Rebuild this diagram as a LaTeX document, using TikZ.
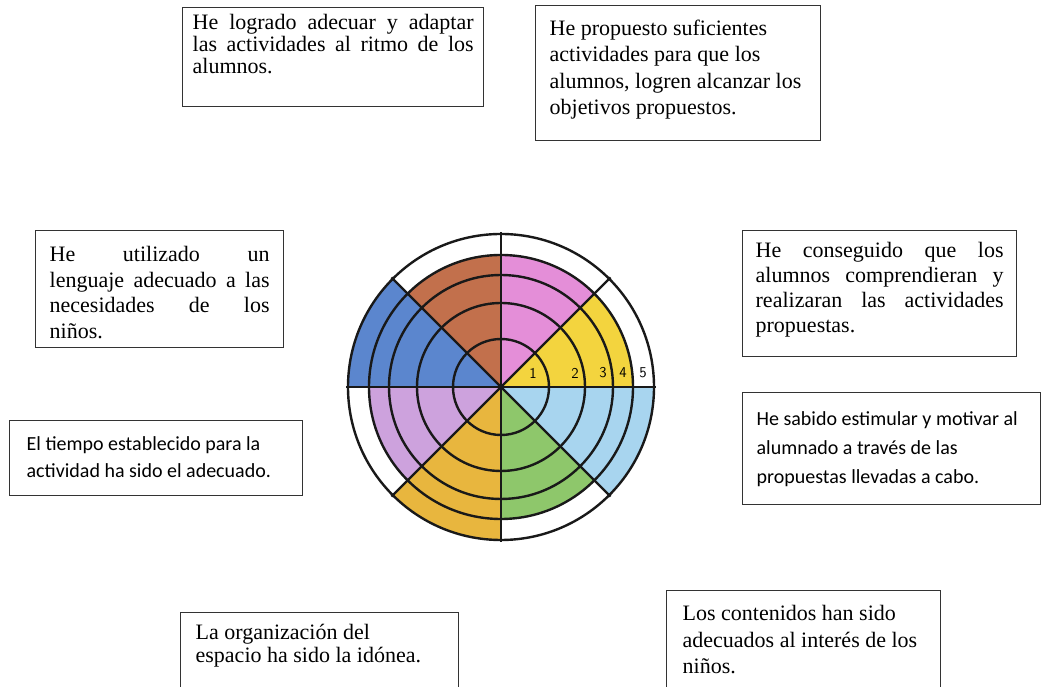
\documentclass[tikz,border=0pt]{standalone}
\usepackage{fontspec}
\setmainfont{Liberation Serif}
\newfontfamily\calibri{Carlito}
\definecolor{amarillo}{HTML}{F3D43E}
\definecolor{rosa}{HTML}{E48ED8}
\definecolor{marron}{HTML}{C2704C}
\definecolor{azul}{HTML}{5B86CE}
\definecolor{lila}{HTML}{CDA2DD}
\definecolor{naranja}{HTML}{E8B63E}
\definecolor{verde}{HTML}{8EC76B}
\definecolor{celeste}{HTML}{A8D5EF}
\hyphenpenalty=10000
\tolerance=9999

\begin{document}
\begin{tikzpicture}[x=1pt,y=1pt,
		rueda/.style={line width=2.4pt,black!90},
		recuadro/.style={draw=black!80,line width=1.3pt,anchor=north west},
		serif/.style={font=\fontsize{22}{25.5}\selectfont},
		sans/.style={font=\calibri\fontsize{20}{29}\selectfont},
		numero/.style={font=\sffamily\fontsize{15}{15}\selectfont,inner sep=0pt}]
	\useasboundingbox (0,0) rectangle (1042,687);
	\clip (0,0) rectangle (1042,687);

	% la diana
	\coordinate (centro) at (501,300);
	\foreach \ang/\col/\rad in {0/amarillo/132,45/rosa/132,90/marron/132,135/azul/153,
			180/lila/132,225/naranja/153,270/verde/132,315/celeste/153}
		\fill[\col] (centro) -- ++(\ang:\rad) arc[start angle=\ang,end angle=\ang+45,radius=\rad] -- cycle;
	\foreach \r in {48,84,112,132,153}
		\draw[rueda] (centro) circle[radius=\r];
	\foreach \ang in {0,45,...,315}
		\draw[rueda] (centro) -- ++(\ang:155);
	\foreach \n/\x in {1/32,2/74,3/102,4/122,5/142}
		\node[numero] (n\n) at ([shift={(\x,14)}]centro) {\n};

	% los recuadros
	\node[recuadro,serif,font=\fontsize{22}{22}\selectfont,inner xsep=10pt,inner ysep=7pt] (logrado) at (182,680)
		{\begin{minipage}[t][85pt][t]{281pt}He logrado adecuar y adaptar\linebreak las actividades al ritmo de los\linebreak alumnos.\end{minipage}};
	\node[recuadro,serif,font=\fontsize{22}{26.5}\selectfont,inner xsep=14pt,inner ysep=14pt] (propuesto) at (535,682)
		{\begin{minipage}[t][107pt][t]{257pt}\raggedright He propuesto suficientes\\ actividades para que los\\ alumnos, logren alcanzar los\\ objetivos propuestos.\end{minipage}};
	\node[recuadro,serif,inner xsep=14pt,inner ysep=16pt] (lenguaje) at (35,457)
		{\begin{minipage}[t][85pt][t]{220pt}He utilizado un\linebreak lenguaje adecuado a las\linebreak necesidades de los\linebreak ni\~nos.\end{minipage}};
	\node[recuadro,serif,font=\fontsize{22}{25}\selectfont,inner xsep=13pt,inner ysep=12pt] (conseguido) at (742,457)
		{\begin{minipage}[t][102pt][t]{248pt}He conseguido que los\linebreak alumnos comprendieran y\linebreak realizaran las actividades\linebreak propuestas.\end{minipage}};
	\node[recuadro,sans,inner xsep=14pt,inner ysep=19pt] (motivar) at (742,295)
		{\begin{minipage}[t][74pt][t]{270pt}\raggedright He sabido estimular y motivar al\\ alumnado a través de las\\ propuestas llevadas a cabo.\end{minipage}};
	\node[recuadro,sans,font=\calibri\fontsize{20}{26.5}\selectfont,inner xsep=17pt,inner ysep=16pt] (tiempo) at (9,267)
		{\begin{minipage}[t][43pt][t]{259pt}\raggedright El tiempo establecido para la\\ actividad ha sido el adecuado.\end{minipage}};
	\node[recuadro,serif,font=\fontsize{22}{23}\selectfont,inner xsep=15pt,inner ysep=12pt] (espacio) at (180,75)
		{\begin{minipage}[t][96pt][t]{248pt}\raggedright La organización del\\ espacio ha sido la idónea.\end{minipage}};
	\node[recuadro,serif,font=\fontsize{22}{26.5}\selectfont,inner xsep=16pt,inner ysep=15pt] (contenidos) at (666,97)
		{\begin{minipage}[t][90pt][t]{242pt}\raggedright Los contenidos han sido\\ adecuados al interés de los\\ niños.\end{minipage}};
\end{tikzpicture}
\end{document}
